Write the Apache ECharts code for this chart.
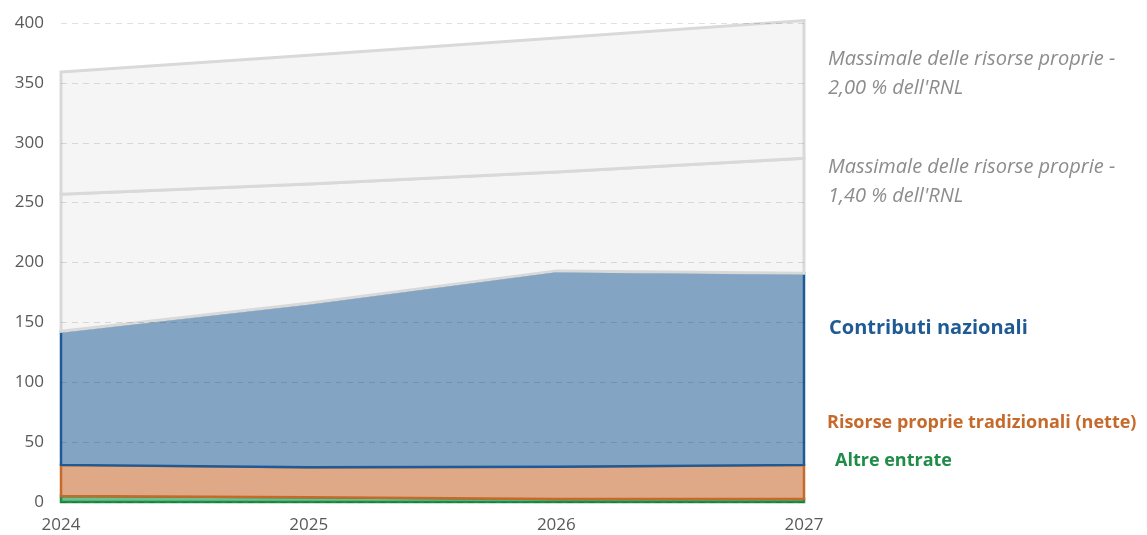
<!DOCTYPE html>
<html>
<head>
<meta charset="utf-8">
<script src="https://cdn.jsdelivr.net/npm/echarts@6/dist/echarts.min.js"></script>
<style>
  html, body { margin: 0; padding: 0; background: #fff; }
  #chart { width: 1147px; height: 535px; }
</style>
</head>
<body>
<div id="chart"></div>
<script>
// dati (mld EUR)
const anni = ['2024', '2025', '2026', '2027'];
const altreEntrate = [5, 4, 2.5, 2.5];
const risorseTradizionali = [26, 25, 27, 28.5];
const contributiNazionali = [111.5, 137, 163.5, 160];
const massimale140 = [257, 265.5, 275.5, 287];
const massimale200 = [359, 373, 387.5, 402];
const yTicks = [0, 50, 100, 150, 200, 250, 300, 350, 400];

const FONT = '"Open Sans", "Noto Sans", sans-serif';

// cumulati per le bande impilate
function somma(a, b) { return a.map((v, i) => v + b[i]); }
const zero = anni.map(() => 0);
const top1 = somma(zero, altreEntrate);
const top2 = somma(top1, risorseTradizionali);
const top3 = somma(top2, contributiNazionali);

// ogni banda = poligono (sotto, sopra) con bordo tutto intorno, come in Excel
const bande = [
  { nome: 'Altre entrate', sotto: zero, sopra: top1, fill: '#6fbf8c', bordo: '#1f8c48', w: 2.5 },
  { nome: 'Risorse proprie tradizionali (nette)', sotto: top1, sopra: top2, fill: '#dfa987', bordo: '#c66a2c', w: 2.5 },
  { nome: 'Contributi nazionali', sotto: top2, sopra: top3, fill: '#84a4c4', bordo: '#1f5a94', w: 2.5 },
  { nome: 'Massimale 1,40', sotto: top3, sopra: massimale140, fill: '#f5f5f5', bordo: '#d9d9d9', w: 3 },
  { nome: 'Massimale 2,00', sotto: massimale140, sopra: massimale200, fill: '#f5f5f5', bordo: '#d9d9d9', w: 3 }
];

function serieBanda(b, idx) {
  return {
    type: 'custom',
    name: b.nome,
    z: 2 + idx,
    clip: false,
    silent: true,
    data: [[0, 0]],
    renderItem: function (params, api) {
      const pts = [];
      for (let i = 0; i < anni.length; i++) pts.push(api.coord([anni[i], b.sopra[i]]));
      for (let i = anni.length - 1; i >= 0; i--) pts.push(api.coord([anni[i], b.sotto[i]]));
      return {
        type: 'polygon',
        shape: { points: pts },
        style: { fill: b.fill, stroke: b.bordo, lineWidth: b.w, lineJoin: 'miter' }
      };
    }
  };
}

const chart = echarts.init(document.getElementById('chart'), null, { renderer: 'canvas' });

const etichette = [
  { x: 828, y: 45, testo: 'Massimale delle risorse proprie -\n2,00 % dell\'RNL', colore: '#8c8c8c', stile: 'italic', peso: 'normal', size: 20 },
  { x: 828, y: 153, testo: 'Massimale delle risorse proprie -\n1,40 % dell\'RNL', colore: '#8c8c8c', stile: 'italic', peso: 'normal', size: 20 },
  { x: 829, y: 314, testo: 'Contributi nazionali', colore: '#1f5a94', stile: 'normal', peso: 'bold', size: 20 },
  { x: 827, y: 408, testo: 'Risorse proprie tradizionali (nette)', colore: '#c66a2c', stile: 'normal', peso: 'bold', size: 18 },
  { x: 835, y: 446, testo: 'Altre entrate', colore: '#1f8c48', stile: 'normal', peso: 'bold', size: 18 }
];

chart.setOption({
  animation: false,
  backgroundColor: '#ffffff',
  grid: { left: 61, right: 343, top: 23, bottom: 33 },
  xAxis: {
    type: 'category',
    data: anni,
    boundaryGap: false,
    axisLine: { show: true, lineStyle: { color: '#d9d9d9', width: 1 } },
    axisTick: { show: false },
    axisLabel: { color: '#595959', fontSize: 17, fontFamily: FONT, margin: 15 },
    splitLine: { show: false }
  },
  yAxis: {
    type: 'value',
    min: yTicks[0],
    max: yTicks[yTicks.length - 1],
    interval: 50,
    z: 20,
    axisLine: { show: false },
    axisTick: { show: false },
    axisLabel: { color: '#595959', fontSize: 17, fontFamily: FONT, margin: 17 },
    splitLine: { show: true, lineStyle: { color: 'rgba(0,0,0,0.12)', type: [6, 5], width: 1 } }
  },
  series: bande.map(serieBanda),
  graphic: etichette.map(e => ({
    type: 'text',
    left: e.x,
    top: e.y,
    z: 100,
    style: {
      text: e.testo,
      fill: e.colore,
      font: e.stile + ' ' + e.peso + ' ' + e.size + 'px ' + FONT,
      lineHeight: 29
    }
  }))
});
</script>
</body>
</html>
